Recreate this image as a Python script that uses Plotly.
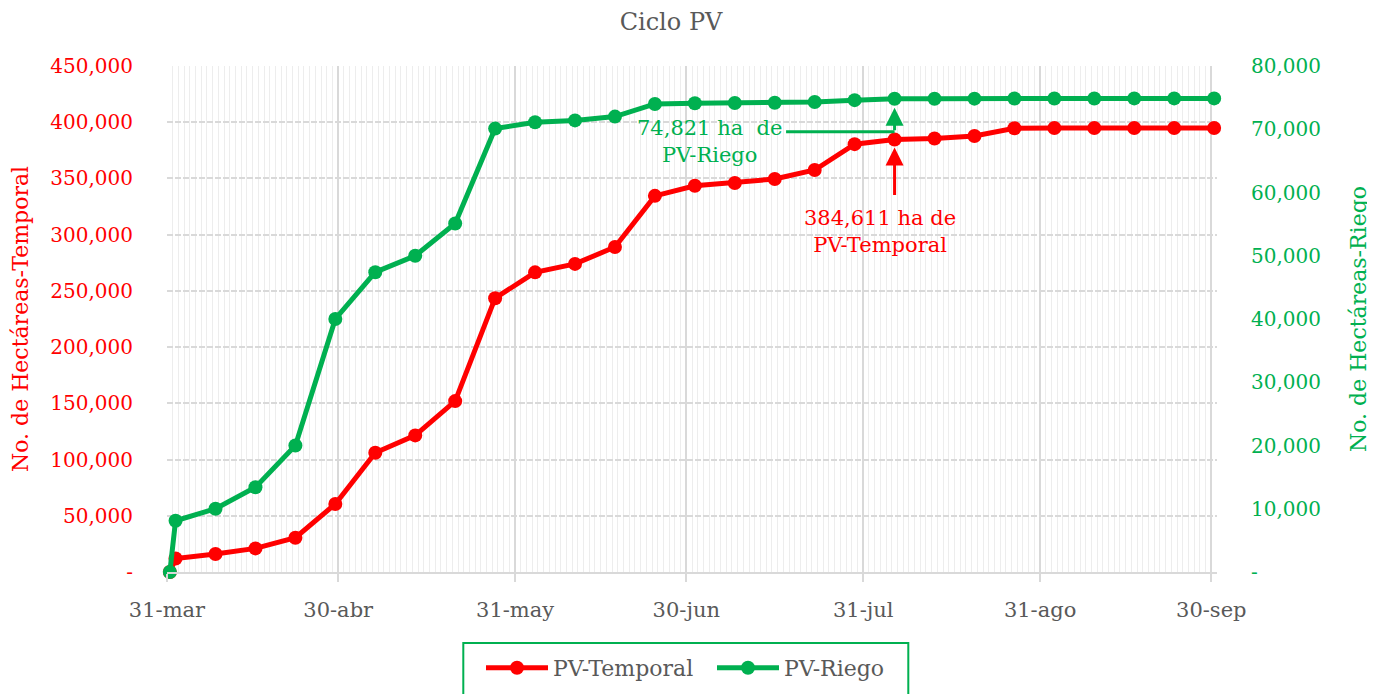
import pandas as pd
import plotly.graph_objects as go

# ---------------- data ----------------
dates = ["2023-03-31", "2023-04-01", "2023-04-08", "2023-04-15", "2023-04-22", "2023-04-29",
         "2023-05-06", "2023-05-13", "2023-05-20", "2023-05-27", "2023-06-03", "2023-06-10",
         "2023-06-17", "2023-06-24", "2023-07-01", "2023-07-08", "2023-07-15", "2023-07-22",
         "2023-07-29", "2023-08-05", "2023-08-12", "2023-08-19", "2023-08-26", "2023-09-02",
         "2023-09-09", "2023-09-16", "2023-09-23", "2023-09-30"]

pv_temporal = [0, 12000, 16000, 21000, 30500, 60500, 106000, 121500, 152000, 243500,
               266500, 274000, 289000, 334500, 343500, 346000, 349500, 357500, 380500,
               384611, 385500, 387700, 394700, 394800, 394800, 394800, 394800, 394800]

pv_riego = [0, 8100, 10000, 13400, 20000, 40000, 47400, 50000, 55100, 70100,
            71100, 71400, 72000, 74000, 74100, 74150, 74200, 74300, 74600,
            74821, 74830, 74840, 74850, 74860, 74870, 74880, 74880, 74880]

x_tick_dates = ["2023-03-31", "2023-04-30", "2023-05-31", "2023-06-30", "2023-07-31",
                "2023-08-31", "2023-09-30"]
x_tick_labels = ["31-mar", "30-abr", "31-may", "30-jun", "31-jul", "31-ago", "30-sep"]

y1_ticks = [0, 50000, 100000, 150000, 200000, 250000, 300000, 350000, 400000, 450000]
y1_labels = ["-", "50,000", "100,000", "150,000", "200,000", "250,000", "300,000",
             "350,000", "400,000", "450,000"]
y2_ticks = [0, 10000, 20000, 30000, 40000, 50000, 60000, 70000, 80000]
y2_labels = ["-", "10,000", "20,000", "30,000", "40,000", "50,000", "60,000",
             "70,000", "80,000"]

ann_date = "2023-08-05"
ann_temporal = 384611
ann_riego = 74821

# ---------------- styling ----------------
RED = "#FF0000"
GREEN = "#00B050"
GRAY = "#595959"
GRID = "#D9D9D9"
FONT = "DejaVu Serif"

W, H = 1367, 686  # page has an 8px body margin

x = pd.to_datetime(dates) + pd.Timedelta(hours=12)
ax_x = pd.Timestamp(ann_date) + pd.Timedelta(hours=12)

fig = go.Figure()
fig.add_trace(go.Scatter(x=x, y=pv_temporal, name="PV-Temporal", mode="lines+markers",
                         line=dict(color=RED, width=5), marker=dict(color=RED, size=14),
                         cliponaxis=False, yaxis="y"))
fig.add_trace(go.Scatter(x=x, y=pv_riego, name="PV-Riego", mode="lines+markers",
                         line=dict(color=GREEN, width=5), marker=dict(color=GREEN, size=14),
                         cliponaxis=False, yaxis="y2"))

# annotations
fig.add_annotation(x=ax_x, y=ann_temporal, xref="x", yref="y",
                   text="", showarrow=True, arrowhead=2, arrowsize=1.2, arrowwidth=3,
                   arrowcolor=RED, ax=0, ay=57, standoff=8)
fig.add_annotation(x=ax_x, y=ann_temporal, xref="x", yref="y",
                   text="384,611 ha de<br>PV-Temporal", showarrow=False,
                   xshift=-15, yshift=-92, font=dict(family=FONT, size=21, color=RED))

fig.add_annotation(x=ax_x, y=ann_riego, xref="x", yref="y2",
                   text="", showarrow=True, arrowhead=2, arrowsize=1.2, arrowwidth=3,
                   arrowcolor=GREEN, ax=0, ay=33, standoff=9)
fig.add_annotation(x=ax_x, y=ann_riego, xref="x", yref="y2",
                   text="", showarrow=True, arrowhead=0, arrowwidth=3,
                   arrowcolor=GREEN, ax=-110, ay=0, yshift=-33, standoff=0)
fig.add_annotation(x=ax_x, y=ann_riego, xref="x", yref="y2",
                   text="74,821 ha\u00a0 de<br>PV-Riego", showarrow=False,
                   xshift=-185, yshift=-43, font=dict(family=FONT, size=21, color=GREEN))

# legend frame
fig.add_shape(type="rect", xref="paper", yref="paper",
              x0=(463 - 8 - 158.7) / 1050, x1=(908 - 8 - 158.7) / 1050,
              y0=-0.26, y1=(572 - 643) / 506,
              line=dict(color=GREEN, width=2), fillcolor="rgba(0,0,0,0)", layer="above")

fig.update_layout(
    width=W, height=H,
    margin=dict(l=158.7, r=W - 158.7 - 1050, t=58, b=H - 58 - 506, autoexpand=False),
    paper_bgcolor="white", plot_bgcolor="white",
    font=dict(family=FONT, size=20, color=GRAY),
    title=dict(text="Ciclo PV", x=(671 - 8) / W, xanchor="center", xref="container",
               y=1 - 14 / H, yanchor="middle",
               font=dict(family=FONT, size=24, color=GRAY)),
    showlegend=True,
    legend=dict(orientation="h", xref="container", yref="container",
                x=(481 - 8) / W, xanchor="left", y=1 - (647 - 8) / H, yanchor="top",
                borderwidth=0, bgcolor="rgba(0,0,0,0)",
                font=dict(family=FONT, size=22, color=GRAY),
                itemwidth=62, entrywidth=154),
    xaxis=dict(type="date", range=["2023-03-31", "2023-10-01"],
               tickmode="array", tickvals=x_tick_dates, ticktext=x_tick_labels,
               ticks="outside", ticklen=8, tickwidth=2, tickcolor=GRID,
               showgrid=True, gridcolor=GRID, gridwidth=2,
               showline=True, linecolor=GRID, linewidth=2,
               ticklabelstandoff=10,
               tickfont=dict(family=FONT, size=21, color=GRAY),
               minor=dict(dtick=86400000, tick0="2023-03-31", showgrid=True,
                          gridcolor="#EDEDED", gridwidth=1, ticks=""),
               zeroline=False),
    yaxis=dict(range=[0, 450000], tickmode="array", tickvals=y1_ticks, ticktext=y1_labels,
               tickfont=dict(family=FONT, size=20, color=RED),
               showgrid=True, gridcolor=GRID, gridwidth=2, griddash="6px,2px",
               zeroline=False, showline=False, ticks="", ticklabelstandoff=33,
               title=dict(text="No. de Hectáreas-Temporal",
                          font=dict(family=FONT, size=22, color=RED), standoff=18)),
    yaxis2=dict(range=[0, 80000], overlaying="y", side="right",
                tickmode="array", tickvals=y2_ticks, ticktext=y2_labels,
                tickfont=dict(family=FONT, size=20, color=GREEN),
                showgrid=False, zeroline=False, showline=False, ticks="",
                ticklabelstandoff=33,
                title=dict(text="No. de Hectáreas-Riego",
                           font=dict(family=FONT, size=22, color=GREEN), standoff=30)),
)

fig.write_html("out.html")
